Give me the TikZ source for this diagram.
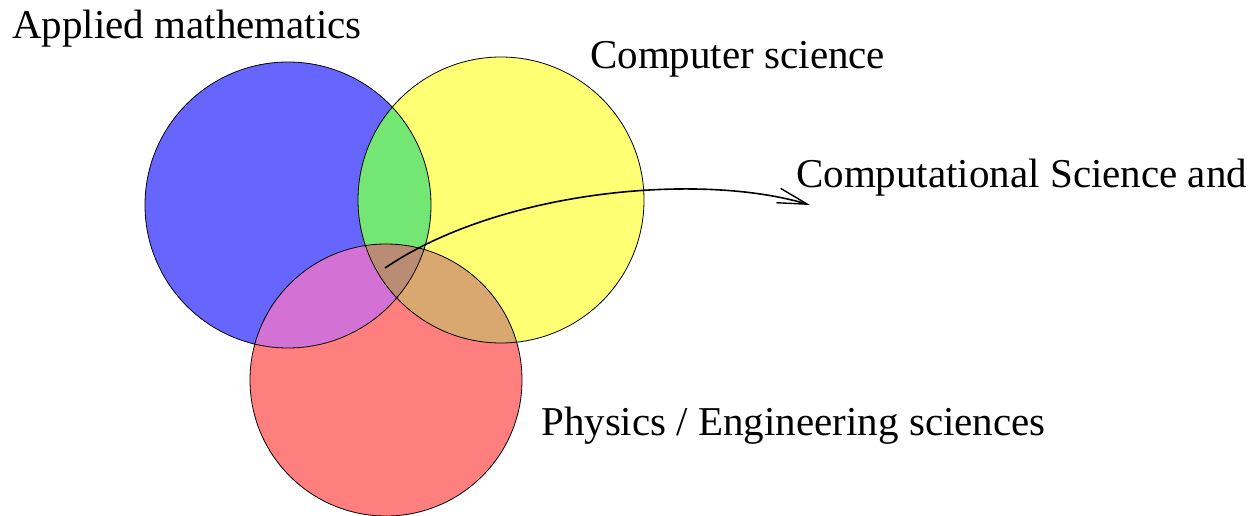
\documentclass[tikz,border=0pt]{standalone}
\usepackage{fontspec}
\setmainfont{Liberation Serif}
\usetikzlibrary{arrows.meta}
\definecolor{cblue}{RGB}{102,102,255}
\definecolor{cyellow}{RGB}{255,255,115}
\definecolor{cred}{RGB}{255,127,127}
\definecolor{cgreen}{RGB}{115,230,115}
\definecolor{cmag}{RGB}{211,113,212}
\definecolor{corange}{RGB}{217,168,112}
\definecolor{cbrown}{RGB}{185,140,115}
\tikzset{
  lbl/.style={anchor=base west, inner sep=0pt, font=\fontsize{41}{49}\selectfont},
  outline/.style={draw=black, line width=0.8pt},
  pointer/.style={line width=1.6pt, -{Straight Barb[length=30pt,width=15pt,line width=1.4pt]}}
}
\begin{document}
\begin{tikzpicture}[x=1pt,y=-1pt]
\useasboundingbox (0,0) rectangle (1258,516);
\def\blue{(288,205) circle[radius=143]}
\def\yel{(501,200) circle[radius=143]}
\def\red{(386,380) circle[radius=136]}
% base circles
\fill[cblue] \blue;
\fill[cyellow] \yel;
\fill[cred] \red;
% pairwise intersections
\begin{scope}\clip \blue; \fill[cgreen] \yel; \end{scope}
\begin{scope}\clip \blue; \fill[cmag] \red; \end{scope}
\begin{scope}\clip \yel; \fill[corange] \red; \end{scope}
\begin{scope}\clip \blue; \clip \yel; \fill[cbrown] \red; \end{scope}
% outlines
\draw[outline] \blue;
\draw[outline] \yel;
\draw[outline] \red;
% labels
\node[lbl] (am) at (12,39) {Applied mathematics};
\node[lbl] (cs) at (590,69) {Computer science};
\node[lbl] (cse) at (796,187) {Computational Science and};
\node[lbl] (pe) at (541,435) {Physics / Engineering sciences};
% arrow
\coordinate (start) at (385,268);
\coordinate (tip) at (810,205);
\draw[pointer] (start) .. controls (500,190) and (700,172) .. (tip);
\end{tikzpicture}
\end{document}
